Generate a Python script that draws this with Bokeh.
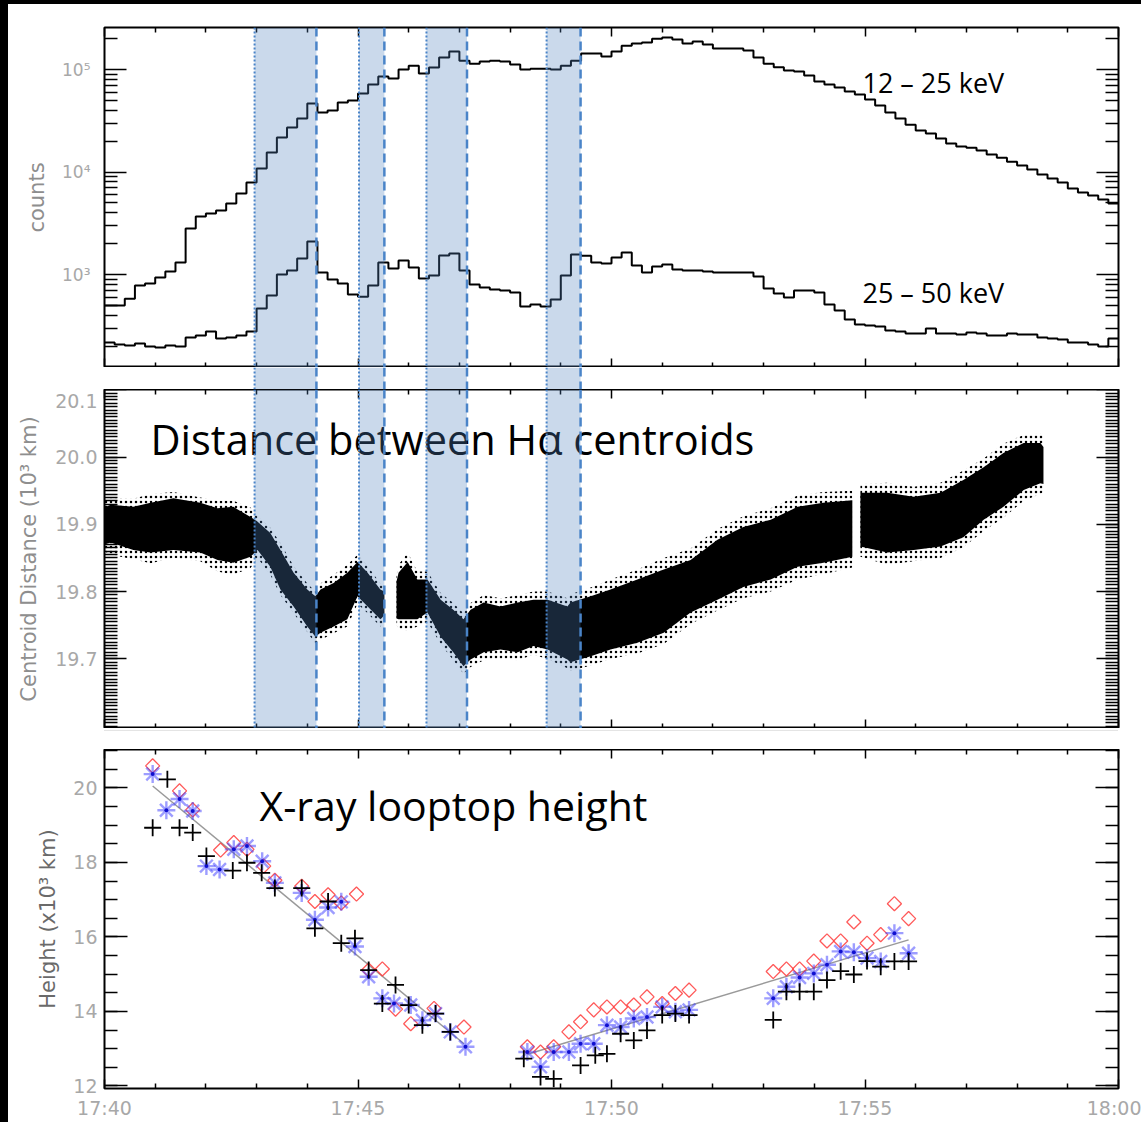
import numpy as np
from bokeh.plotting import figure
from bokeh.models import (Range1d, BoxAnnotation, Span, FixedTicker, SingleIntervalTicker,
                          LinearAxis, LogAxis, Div)
from bokeh.layouts import column, row
from bokeh.core.properties import value
from bokeh.embed import file_html
from bokeh.resources import INLINE

# ---------------------------------------------------------------- data
# time is measured in minutes after 17:40 UT

# HXR light curves, 0.2-min bins from 17:40 to 18:00
bin_edges = np.round(np.arange(0, 20.0001, 0.2), 3)
counts_12_25 = [500, 500, 580, 780, 820, 935, 1070, 1310, 2810, 3680,
                3940, 4210, 4930, 6170, 7900, 10800, 15500, 21700, 27200, 33200,
                46500, 38000, 39800, 47600, 49900, 58300, 71500, 85500, 81700, 100000,
                109000, 91500, 104700, 131000, 150000, 122000, 114000, 120000, 122000, 120000,
                112000, 100000, 102000, 102000, 100000, 109000, 122000, 143000, 143000, 134000,
                150000, 171000, 179000, 183000, 200000, 205000, 196000, 179000, 188000, 175000,
                160000, 160000, 160000, 153000, 131000, 114000, 105000, 97800, 95600, 87400,
                76400, 71400, 66700, 61000, 57000, 51000, 44600, 38000, 33200, 29000,
                25400, 23800, 21200, 19000, 17700, 17300, 16200, 14800, 13800, 12600,
                11600, 10600, 9460, 8650, 7900, 6900, 6310, 5900, 5400, 4930]
counts_25_50 = [217, 208, 203, 212, 199, 194, 203, 199, 243, 254,
                278, 238, 243, 254, 278, 466, 624, 1000, 1094, 1432,
                2100, 1047, 894, 817, 638, 609, 781, 1310, 1146, 1372,
                1169, 914, 977, 1531, 1603, 1094, 799, 746, 714, 698,
                667, 488, 510, 488, 570, 977, 1567, 1530, 1310, 1280,
                1466, 1640, 1224, 1047, 1197, 1253, 1119, 1094, 1094, 1070,
                1047, 1047, 1047, 1047, 955, 730, 653, 597, 698, 698,
                667, 510, 446, 364, 325, 318, 311, 284, 278, 266,
                266, 297, 266, 266, 260, 272, 266, 254, 254, 266,
                260, 260, 243, 238, 232, 217, 217, 208, 199, 238]

# intervals of interest (start, end)
band_start = [2.96, 5.02, 6.35, 8.72]
band_end = [4.18, 5.52, 7.15, 9.39]

# H-alpha centroid separation (10^3 km): dense core and sparse outer edge of the
# point cloud, in three stretches separated by data gaps
dist_t_a = [0.0, 0.12, 0.57, 0.91, 1.36, 1.89, 2.23, 2.54, 2.88, 3.02, 3.27, 3.47, 3.73,
            4.00, 4.16, 4.26, 4.52, 4.79, 4.99, 5.19, 5.44, 5.52]
dist_hi_a = [19.925, 19.929, 19.926, 19.932, 19.939, 19.932, 19.924, 19.926, 19.911, 19.904,
             19.887, 19.862, 19.828, 19.803, 19.793, 19.803, 19.813, 19.828, 19.844, 19.828,
             19.803, 19.800]
dist_lo_a = [19.870, 19.873, 19.862, 19.858, 19.862, 19.858, 19.847, 19.843, 19.852, 19.862,
             19.837, 19.803, 19.778, 19.748, 19.733, 19.739, 19.748, 19.759, 19.793, 19.778,
             19.759, 19.765]
dist_hi_out_a = [19.935, 19.940, 19.938, 19.945, 19.948, 19.940, 19.935, 19.935, 19.925, 19.912,
                 19.895, 19.872, 19.838, 19.812, 19.800, 19.812, 19.825, 19.840, 19.855, 19.838,
                 19.812, 19.808]
dist_lo_out_a = [19.860, 19.855, 19.848, 19.842, 19.850, 19.845, 19.830, 19.825, 19.835, 19.850,
                 19.825, 19.795, 19.768, 19.740, 19.722, 19.728, 19.738, 19.748, 19.782, 19.768,
                 19.748, 19.755]
dist_t_b = [5.76, 5.80, 5.98, 6.17, 6.37, 6.63, 6.88, 7.08, 7.22, 7.48, 7.81, 8.15, 8.46,
            8.74, 9.13, 9.19, 9.59, 9.98, 10.51, 11.03, 11.56, 12.09, 12.60, 13.14, 13.67,
            14.18, 14.75]
dist_hi_b = [19.815, 19.828, 19.844, 19.818, 19.818, 19.788, 19.773, 19.759, 19.773, 19.784,
             19.778, 19.784, 19.788, 19.788, 19.778, 19.784, 19.793, 19.803, 19.818, 19.833,
             19.847, 19.877, 19.896, 19.907, 19.926, 19.932, 19.936]
dist_lo_b = [19.760, 19.759, 19.759, 19.759, 19.769, 19.733, 19.710, 19.689, 19.699, 19.710,
             19.714, 19.710, 19.719, 19.714, 19.699, 19.695, 19.704, 19.714, 19.724, 19.739,
             19.769, 19.788, 19.807, 19.818, 19.837, 19.843, 19.852]
dist_hi_out_b = [19.825, 19.840, 19.858, 19.830, 19.830, 19.798, 19.783, 19.768, 19.783, 19.795,
                 19.790, 19.795, 19.800, 19.800, 19.790, 19.796, 19.806, 19.818, 19.833, 19.850,
                 19.864, 19.893, 19.912, 19.924, 19.943, 19.948, 19.950]
dist_lo_out_b = [19.750, 19.745, 19.742, 19.748, 19.755, 19.722, 19.698, 19.678, 19.688, 19.698,
                 19.700, 19.698, 19.706, 19.700, 19.686, 19.682, 19.690, 19.700, 19.708, 19.722,
                 19.752, 19.772, 19.790, 19.800, 19.818, 19.826, 19.836]
dist_t_c = [14.91, 15.44, 15.96, 16.49, 16.94, 17.34, 17.73, 18.13, 18.46, 18.52]
dist_hi_c = [19.947, 19.947, 19.941, 19.947, 19.966, 19.985, 20.006, 20.021, 20.021, 20.015]
dist_lo_c = [19.867, 19.858, 19.862, 19.867, 19.881, 19.907, 19.926, 19.951, 19.961, 19.960]
dist_hi_out_c = [19.960, 19.962, 19.956, 19.962, 19.980, 19.998, 20.020, 20.033, 20.035, 20.030]
dist_lo_out_c = [19.852, 19.840, 19.845, 19.850, 19.866, 19.890, 19.910, 19.935, 19.945, 19.948]

# X-ray looptop height (10^3 km), three energy channels
t_diamond = [0.95, 1.48, 1.74, 2.29, 2.55, 2.81, 3.14, 3.36, 3.89, 4.15, 4.41, 4.67, 4.97,
             5.21, 5.48, 5.74, 6.04, 6.50, 7.09,
             8.34, 8.60, 8.86, 9.16, 9.39, 9.65, 9.91, 10.18, 10.44, 10.70, 11.00, 11.26, 11.53,
             13.19, 13.45, 13.71, 13.99, 14.25, 14.52, 14.78, 15.04, 15.31, 15.58, 15.86]
h_diamond = [20.59, 19.92, 19.41, 18.33, 18.53, 18.35, 17.90, 17.52, 17.36, 16.95, 17.13, 16.91, 17.15,
             15.11, 15.14, 14.06, 13.67, 14.08, 13.58,
             13.05, 12.91, 13.05, 13.45, 13.72, 14.04, 14.12, 14.12, 14.17, 14.39, 14.21, 14.48, 14.57,
             15.07, 15.14, 15.14, 15.35, 15.89, 15.89, 16.40, 15.83, 16.06, 16.89, 16.49]
t_star = [0.95, 1.22, 1.48, 1.74, 2.01, 2.27, 2.55, 2.81, 3.11, 3.36, 3.89, 4.15, 4.41, 4.67,
          4.94, 5.21, 5.48, 5.71, 6.04, 6.27, 6.53, 6.82, 7.12,
          8.34, 8.60, 8.86, 9.16, 9.39, 9.65, 9.91, 10.18, 10.44, 10.70, 11.00, 11.26, 11.53,
          13.19, 13.45, 13.71, 13.99, 14.25, 14.52, 14.78, 15.04, 15.31, 15.58, 15.86]
h_star = [20.37, 19.40, 19.70, 19.38, 17.90, 17.81, 18.35, 18.44, 18.03, 17.45, 17.18, 16.46, 16.79, 16.94,
          15.74, 14.93, 14.35, 14.21, 14.17, 13.76, 13.94, 13.45, 13.05,
          12.91, 12.51, 12.91, 12.91, 13.13, 13.13, 13.63, 13.58, 13.81, 13.85, 14.12, 13.99, 14.04,
          14.35, 14.66, 14.91, 15.02, 15.25, 15.61, 15.59, 15.43, 15.34, 16.10, 15.56]
t_plus = [0.95, 1.24, 1.48, 1.74, 2.01, 2.53, 2.81, 3.10, 3.36, 3.89, 4.15, 4.41, 4.67, 4.94,
          5.21, 5.48, 5.74, 6.00, 6.27, 6.53, 6.82,
          8.27, 8.60, 8.86, 9.39, 9.68, 9.91, 10.18, 10.44, 10.70, 11.00, 11.26, 11.53,
          13.19, 13.45, 13.71, 13.99, 14.25, 14.52, 14.78, 15.04, 15.31, 15.58, 15.86]
h_plus = [18.93, 20.23, 18.93, 18.80, 18.17, 17.78, 17.99, 17.72, 17.31, 17.31, 16.23, 16.95, 15.83, 15.96,
          15.11, 14.21, 14.71, 14.17, 13.63, 13.94, 13.45,
          12.73, 12.24, 12.19, 12.55, 12.82, 12.86, 13.40, 13.22, 13.49, 13.90, 13.94, 13.90,
          13.77, 14.53, 14.53, 14.53, 14.84, 15.08, 14.99, 15.35, 15.20, 15.34, 15.34]

# linear fits to the descending and ascending phases
fit_down_t = [0.95, 7.09]
fit_down_h = [20.05, 13.13]
fit_up_t = [8.34, 15.86]
fit_up_h = [12.85, 15.92]

time_ticks = [0, 5, 10, 15, 20]
time_labels = ["17:40", "17:45", "17:50", "17:55", "18:00"]

# ---------------------------------------------------------------- style
FRAME_W = 1014
BAND_BLUE = "#4f81bd"
EDGE_BLUE = "#4a84c8"
TICK_GREY = "#a8a8a8"
TITLE_GREY = "#8e8e8e"
AXIS_FONT = "DejaVu Sans"
TEXT_FONT = "Open Sans"

x_range = Range1d(0, 20)
minute_minor = [m for m in range(21) if m % 5]


def base_fig(frame_h, y_range, y_type="linear", top=0, bottom=0, axes=True):
    kw = dict(frame_width=FRAME_W, frame_height=frame_h, x_range=x_range, y_range=y_range,
              y_axis_type=y_type, output_backend="svg", toolbar_location=None,
              min_border_left=96, min_border_right=23, min_border_top=top,
              min_border_bottom=bottom, background_fill_color="white",
              border_fill_color="white")
    if not axes:
        kw.update(x_axis_location=None, y_axis_location=None)
    p = figure(**kw)
    p.grid.visible = False
    p.outline_line_color = "black" if axes else None
    p.outline_line_width = 2
    return p


def style_axis(ax, major_in, minor_in, show_labels):
    ax.major_tick_in = major_in
    ax.major_tick_out = 0
    ax.minor_tick_in = minor_in
    ax.minor_tick_out = 0
    ax.major_tick_line_color = "black"
    ax.minor_tick_line_color = "black"
    ax.major_tick_line_width = 1.5
    ax.minor_tick_line_width = 1.5
    ax.axis_line_color = None
    if show_labels:
        ax.major_label_text_font = AXIS_FONT
        ax.major_label_text_font_size = "19px"
        ax.major_label_text_color = TICK_GREY
    else:
        # unlabelled mirror axis: keep the labels tiny and invisible
        ax.major_label_text_font_size = "1px"
        ax.major_label_text_color = None
        ax.major_label_standoff = 0


def time_axes(p, show_labels=False):
    bottom = p.below[0]
    top = LinearAxis()
    p.add_layout(top, "above")
    for ax in (bottom, top):
        ax.ticker = FixedTicker(ticks=time_ticks, minor_ticks=minute_minor)
        style_axis(ax, 9, 5, False)
    if show_labels:
        bottom.major_label_overrides = dict(zip(time_ticks, time_labels))
        bottom.major_label_text_font = AXIS_FONT
        bottom.major_label_text_font_size = "19px"
        bottom.major_label_text_color = TICK_GREY
        bottom.major_label_standoff = 8


def value_axes(p, ticker, major_in, minor_in, label, log=False, standoff=7, title_standoff=10):
    left = p.left[0]
    right = LogAxis() if log else LinearAxis()
    p.add_layout(right, "right")
    for ax in (left, right):
        ax.ticker = ticker
        style_axis(ax, major_in, minor_in, ax is left)
    left.major_label_standoff = standoff
    left.axis_label = label
    left.axis_label_text_font = AXIS_FONT
    left.axis_label_text_font_size = "21px"
    left.axis_label_text_font_style = "normal"
    left.axis_label_text_color = TITLE_GREY
    left.axis_label_standoff = title_standoff
    return left


def add_bands(p):
    for s, e in zip(band_start, band_end):
        p.add_layout(BoxAnnotation(left=s, right=e, fill_color=BAND_BLUE, fill_alpha=0.3,
                                   line_color=None))
        p.add_layout(Span(location=s, dimension="height", line_color=EDGE_BLUE,
                          line_width=2, line_dash="2 2"))
        p.add_layout(Span(location=e, dimension="height", line_color=EDGE_BLUE,
                          line_width=2.5, line_dash="9 5"))


# ---------------------------------------------------------------- panel 1: HXR counts
p1 = base_fig(340, Range1d(124, 2.57e5), "log", top=23)
p1.step(x=bin_edges, y=counts_12_25 + counts_12_25[-1:], mode="after",
        line_color="black", line_width=2)
p1.step(x=bin_edges, y=counts_25_50 + counts_25_50[-1:], mode="after",
        line_color="black", line_width=2)
p1.text(x=[14.95, 14.95], y=[75100, 671], text=["12 – 25 keV", "25 – 50 keV"],
        text_font=value(TEXT_FONT), text_font_size="27px", text_color="black",
        text_align="left", text_baseline="alphabetic")
time_axes(p1)
log_minor = [k * 10 ** e for e in range(2, 6) for k in range(2, 10)]
ax1 = value_axes(p1, FixedTicker(ticks=[1e3, 1e4, 1e5], minor_ticks=log_minor), 22, 13,
                 "counts", log=True, standoff=14, title_standoff=10)
ax1.major_label_overrides = {1000: "10³", 10000: "10⁴", 100000: "10⁵"}
ax1.major_label_text_font_size = "17px"
add_bands(p1)

# strip between the two upper panels, carrying the shaded intervals
gap = base_fig(22, Range1d(0, 1), axes=False)
add_bands(gap)

# ---------------------------------------------------------------- panel 2: centroid distance
p2 = base_fig(339, Range1d(19.5965, 20.1005))
for t, hi, lo, hi_out, lo_out in (
        (dist_t_a, dist_hi_a, dist_lo_a, dist_hi_out_a, dist_lo_out_a),
        (dist_t_b, dist_hi_b, dist_lo_b, dist_hi_out_b, dist_lo_out_b),
        (dist_t_c, dist_hi_c, dist_lo_c, dist_hi_out_c, dist_lo_out_c)):
    # sparse fringe of the scatter, stippled
    p2.varea(x=t, y1=lo_out, y2=hi_out, fill_alpha=0, hatch_pattern="dot",
             hatch_color="black", hatch_scale=5, hatch_weight=1.8)
    # dense core
    p2.varea(x=t, y1=lo, y2=hi, fill_color="black")
p2.text(x=[0.907], y=[20.027], text=["Distance between Hα centroids"],
        text_font=value(TEXT_FONT), text_font_size="41.5px", text_color="black",
        text_align="left", text_baseline="alphabetic")
time_axes(p2)
dist_minor = [float(v) for v in np.round(np.arange(19.6, 20.1001, 0.005), 3)]
ax2 = value_axes(p2, FixedTicker(ticks=[19.7, 19.8, 19.9, 20.0, 20.1], minor_ticks=dist_minor),
                 22, 13, "Centroid Distance (10³ km)", title_standoff=11)
# the top label is pushed a little down so that it sits inside the panel height
ax2.major_label_overrides = {19.7: "19.7", 19.8: "19.8", 19.9: "19.9", 20.0: "20.0",
                             20.1: "\n20.1"}
ax2.major_label_text_line_height = 0.02
add_bands(p2)

# thin rule between the middle and lower panels
rule = Div(text="", width=1014, height=1, margin=(2, 23, 18, 96),
           styles={"background-color": "#e4e4e4"})

# ---------------------------------------------------------------- panel 3: looptop height
p3 = base_fig(339, Range1d(11.93, 21.03), bottom=34)
p3.line(fit_down_t, fit_down_h, line_color="#9a9a9a", line_width=1.5)
p3.line(fit_up_t, fit_up_h, line_color="#9a9a9a", line_width=1.5)
p3.scatter(t_diamond, h_diamond, marker="square", angle=np.pi / 4, size=10,
           fill_color=None, line_color="#ff3c3c", line_alpha=0.85, line_width=1.3)
p3.scatter(t_star, h_star, marker="asterisk", size=18, line_color="#3c3cff",
           line_alpha=0.5, line_width=2.4)
p3.scatter(t_star, h_star, marker="circle", size=4, fill_color="#1010d0", line_color=None)
p3.scatter(t_plus, h_plus, marker="cross", size=17, line_color="black", line_width=1.8)
p3.text(x=[3.057], y=[19.54], text=["X-ray looptop height"],
        text_font=value(TEXT_FONT), text_font_size="41px", text_color="black",
        text_align="left", text_baseline="alphabetic")
time_axes(p3, show_labels=True)
ax3 = value_axes(p3, SingleIntervalTicker(interval=2, num_minor_ticks=4), 23, 13,
                 "Height (x10³ km)")
ax3.axis_label_text_color = "#6a6a6a"

# ---------------------------------------------------------------- page
top_strip = Div(width=1141, height=4, margin=0, styles={"background-color": "black"})
left_strip = Div(width=8, height=1118, margin=0, styles={"background-color": "black"})
panels = column(p1, gap, p2, rule, p3, spacing=0)
layout = column(top_strip, row(left_strip, panels, spacing=0), spacing=0)

open("out.html", "w").write(file_html(layout, INLINE))
